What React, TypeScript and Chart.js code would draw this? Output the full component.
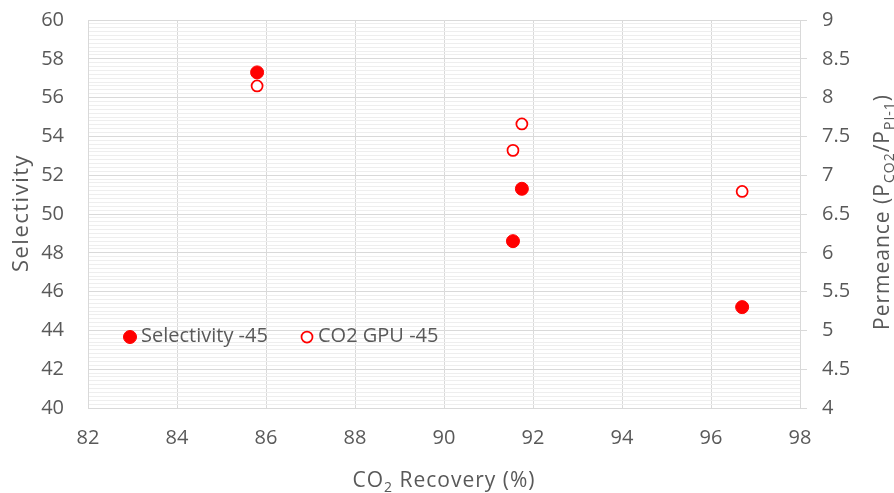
import React, { useEffect, useRef } from "react";
import { Chart, registerables } from "chart.js";

Chart.register(...registerables);

const recovery = [85.8, 91.75, 91.55, 96.7];
const selectivity = [57.3, 51.3, 48.6, 45.2];
const recoveryGpu = [85.8, 91.75, 91.55, 96.7];
const co2Gpu = [8.15, 7.66, 7.32, 6.79];

const xTicks = { min: 82, max: 98, step: 2 };
const yTicks = { min: 40, max: 60, step: 2 };
const y2Ticks = { min: 4, max: 9, step: 0.5 };

const FONT = "'Open Sans', 'Noto Sans', sans-serif";
const TEXT = "#595959";
const GRID = "#d9d9d9";
const MINOR = "#eeeeee";
const RED = "#ff0000";

const titlesAndLegend = {
  id: "titlesAndLegend",
  afterDraw(chart: any) {
    const { ctx, chartArea } = chart;
    const cx = (chartArea.left + chartArea.right) / 2;
    const cy = (chartArea.top + chartArea.bottom) / 2;
    ctx.save();
    ctx.fillStyle = TEXT;
    ctx.textBaseline = "alphabetic";

    const drawRuns = (
      runs: [string, boolean][],
      x0: number,
      y0: number,
      size: number,
      spacing: number
    ) => {
      const big = `${size}px ${FONT}`;
      const small = `${Math.round(size * 0.67)}px ${FONT}`;
      (ctx as any).letterSpacing = `${spacing}px`;
      let total = 0;
      for (const [t, sub] of runs) {
        ctx.font = sub ? small : big;
        total += ctx.measureText(t).width;
      }
      let x = x0 - total / 2;
      for (const [t, sub] of runs) {
        ctx.font = sub ? small : big;
        ctx.textAlign = "left";
        ctx.fillText(t, x, y0 + (sub ? 5 : 0));
        x += ctx.measureText(t).width;
      }
      (ctx as any).letterSpacing = "0px";
    };
    drawRuns([["CO", false], ["2", true], [" Recovery (%)", false]], cx, 487, 21, 1);

    ctx.save();
    ctx.translate(28, cy - 1);
    ctx.rotate(-Math.PI / 2);
    drawRuns([["Selectivity", false]], 0, 0, 22, 1.5);
    ctx.restore();

    ctx.save();
    ctx.translate(889, cy - 2);
    ctx.rotate(-Math.PI / 2);
    drawRuns(
      [
        ["Permeance (P", false],
        ["CO2", true],
        ["/P", false],
        ["PI-1", true],
        [")", false],
      ],
      0,
      0,
      21,
      1
    );
    ctx.restore();

    // legend inside plot
    const ly = chartArea.bottom - 71;
    const items = [
      { ds: chart.data.datasets[0], x: chartArea.left + 42 },
      { ds: chart.data.datasets[1], x: chartArea.left + 219 },
    ];
    for (const it of items) {
      ctx.beginPath();
      ctx.arc(it.x, ly, it.ds.pointRadius, 0, Math.PI * 2);
      ctx.fillStyle = it.ds.pointBackgroundColor;
      ctx.fill();
      ctx.lineWidth = it.ds.pointBorderWidth;
      ctx.strokeStyle = it.ds.pointBorderColor;
      ctx.stroke();
      ctx.fillStyle = TEXT;
      ctx.font = `20px ${FONT}`;
      ctx.textAlign = "left";
      ctx.textBaseline = "middle";
      ctx.fillText(it.ds.label, it.x + 11, ly - 1);
    }
    ctx.restore();
  },
};

const fixWidth = (w: number) => (s: any) => {
  s.width = w;
  s.paddingTop = 0;
  s.paddingBottom = 0;
};

export default function App() {
  const ref = useRef<HTMLCanvasElement>(null);
  useEffect(() => {
    const canvas = ref.current;
    if (!canvas) return;
    const tickFont = { family: FONT, size: 20 };
    const chart = new Chart(canvas, {
      type: "scatter",
      data: {
        datasets: [
          {
            label: "Selectivity -45",
            data: recovery.map((x, i) => ({ x, y: selectivity[i] })),
            yAxisID: "y",
            pointRadius: 6.5,
            pointBackgroundColor: RED,
            pointBorderColor: RED,
            pointBorderWidth: 1,
            backgroundColor: RED,
            borderColor: RED,
          },
          {
            label: "CO2 GPU -45",
            data: recoveryGpu.map((x, i) => ({ x, y: co2Gpu[i] })),
            yAxisID: "y2",
            pointRadius: 5.5,
            pointBackgroundColor: "#ffffff",
            pointBorderColor: RED,
            pointBorderWidth: 1.75,
            backgroundColor: "#ffffff",
            borderColor: RED,
          },
        ],
      },
      options: {
        animation: false,
        responsive: false,
        maintainAspectRatio: false,
        layout: { padding: { top: 20, left: 0, right: 0, bottom: 0 } },
        plugins: {
          legend: { display: false },
          tooltip: { enabled: false },
          title: { display: false },
        },
        scales: {
          x: {
            type: "linear",
            position: "bottom",
            min: xTicks.min,
            max: xTicks.max,
            ticks: { stepSize: xTicks.step, color: TEXT, font: tickFont, padding: 18 },
            grid: { color: GRID, drawTicks: false, lineWidth: 1 },
            border: { color: GRID },
            afterFit: (s: any) => {
              s.height = 85;
              s.paddingLeft = 0;
              s.paddingRight = 0;
            },
          },
          yMinor: {
            type: "linear",
            position: "left",
            min: yTicks.min,
            max: yTicks.max,
            z: -1,
            ticks: { display: false, stepSize: 0.2, maxTicksLimit: 1000 },
            grid: { color: MINOR, drawTicks: false },
            border: { display: false },
            afterFit: fixWidth(0),
          },
          y: {
            type: "linear",
            position: "left",
            min: yTicks.min,
            max: yTicks.max,
            ticks: { stepSize: yTicks.step, color: TEXT, font: tickFont, padding: 24 },
            grid: { color: GRID, drawTicks: false },
            border: { color: GRID },
            afterFit: fixWidth(88),
          },
          y2: {
            type: "linear",
            position: "right",
            min: y2Ticks.min,
            max: y2Ticks.max,
            ticks: {
              stepSize: y2Ticks.step,
              color: TEXT,
              font: tickFont,
              padding: 15,
              callback: (v: any) => String(Number(v)),
            },
            grid: { color: GRID, drawOnChartArea: false, drawTicks: true, tickLength: 7 },
            border: { color: GRID },
            afterFit: fixWidth(94),
          },
        },
      } as any,
      plugins: [titlesAndLegend],
    });
    return () => chart.destroy();
  }, []);
  return (
    <div style={{ position: "fixed", left: 0, top: 0, width: 894, height: 493, background: "#ffffff" }}>
      <canvas ref={ref} width={894} height={493} style={{ width: 894, height: 493, display: "block" }} />
    </div>
  );
}
